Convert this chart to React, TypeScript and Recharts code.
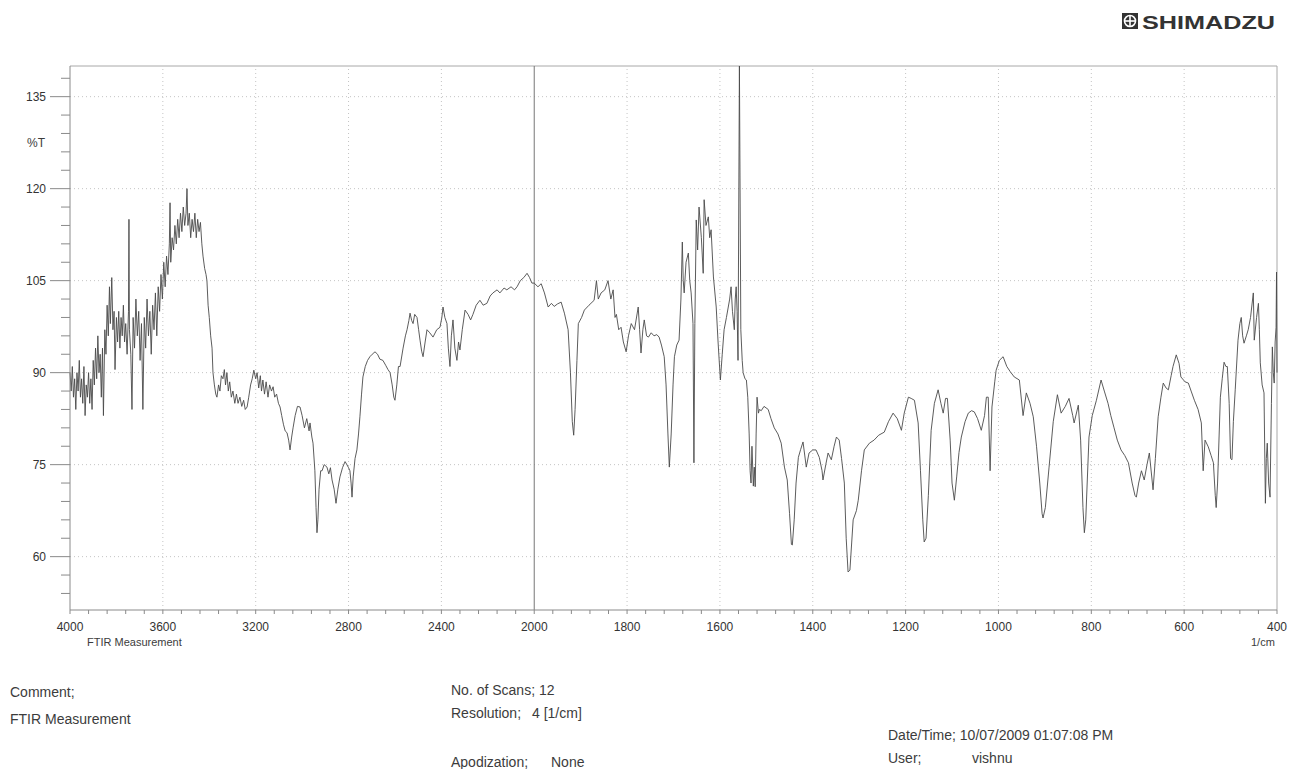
import React from 'react';
import { LineChart, Line, XAxis, YAxis, ReferenceLine } from 'recharts';

// [wavenumber 1/cm, %T], high to low wavenumber
const OH_REGION = [
  [4000, 90], [3995, 87], [3990, 91], [3985, 86], [3980, 89], [3975, 84], [3970, 90], [3965, 87],
  [3960, 92], [3955, 86], [3950, 89], [3945, 85], [3940, 91], [3935, 83], [3930, 88], [3925, 86],
  [3920, 90], [3915, 85], [3910, 89], [3905, 84], [3900, 92], [3895, 88], [3890, 94], [3885, 89],
  [3880, 96], [3875, 90], [3870, 93], [3865, 86], [3860, 94], [3856, 83], [3850, 97], [3845, 93],
  [3840, 101], [3835, 96], [3830, 104], [3826, 98], [3820, 105.5], [3815, 97], [3810, 100], [3806, 90.5],
  [3800, 99], [3795, 95], [3790, 100], [3785, 94], [3780, 99], [3775, 96], [3770, 101], [3765, 95],
  [3760, 98], [3754, 93], [3748, 100], [3746, 115], [3744, 97], [3738, 93], [3733, 84], [3728, 99],
  [3722, 94], [3716, 102], [3710, 96], [3704, 100], [3698, 92], [3692, 98], [3686, 84], [3680, 99],
  [3674, 94], [3668, 102], [3662, 96], [3656, 100], [3650, 93], [3644, 101], [3638, 97], [3632, 103],
  [3626, 96], [3620, 104], [3614, 100], [3608, 106], [3602, 102], [3596, 108], [3590, 104], [3584, 109],
  [3578, 106], [3572, 111], [3569, 117.7], [3566, 108], [3560, 112], [3554, 110], [3548, 114], [3542, 111],
  [3536, 115], [3530, 112], [3524, 116], [3518, 113], [3512, 117], [3506, 114], [3500, 116], [3496, 120],
  [3492, 114], [3486, 116], [3480, 112], [3474, 115], [3468, 113], [3462, 116], [3456, 112], [3450, 115],
  [3444, 113], [3438, 114.5], [3432, 111], [3427, 109], [3420, 107], [3414, 106], [3410, 105], [3405, 101],
  [3400, 99], [3394, 96], [3388, 94], [3384, 90], [3378, 88], [3372, 86.5], [3367, 86],
];

const CH_REGION = [
  [3360, 88], [3354, 87], [3348, 89.5], [3341, 89], [3335, 90.5], [3330, 88], [3324, 90], [3318, 87],
  [3312, 88.5], [3305, 86], [3298, 87], [3290, 85], [3283, 86.5], [3276, 85], [3268, 86], [3260, 84.5],
  [3252, 85.5], [3245, 84], [3237, 84.4], [3230, 86], [3222, 88], [3215, 89], [3208, 90.4], [3200, 89],
  [3194, 90], [3187, 87.5], [3180, 89.5], [3175, 87], [3169, 88.8], [3162, 86.5], [3155, 88.5], [3147, 86],
  [3140, 88], [3132, 87], [3125, 87.7], [3118, 86], [3110, 86.5], [3102, 85], [3095, 84.4], [3088, 83],
  [3080, 81.5], [3073, 80.5], [3065, 80.2], [3058, 79], [3052, 77.4], [3045, 79.5], [3039, 81], [3030, 83],
  [3020, 84.5], [3009, 84.4], [3000, 83], [2990, 81], [2980, 82.5], [2970, 80.5], [2966, 81.8], [2958, 79.5],
  [2953, 78.5], [2945, 74], [2940, 68], [2936, 63.9], [2932, 66], [2927, 71], [2920, 74], [2914, 74],
  [2905, 75], [2893, 74.6], [2885, 73.5], [2878, 74.5], [2871, 72.5], [2862, 71], [2854, 68.7], [2846, 71],
  [2837, 73], [2826, 74.5], [2815, 75.5], [2807, 75], [2800, 74.5], [2794, 74], [2789, 72], [2785, 69.7],
  [2780, 73], [2772, 76], [2764, 77.4], [2757, 80], [2751, 82.8], [2744, 86.5], [2738, 89.3],
];

const MID_REGION = [
  [2728, 91], [2718, 92], [2708, 92.6], [2698, 93], [2686, 93.4], [2675, 93], [2665, 92.2], [2652, 92],
  [2640, 91.2], [2630, 90.5], [2621, 90], [2612, 88], [2605, 86], [2600, 85.5], [2592, 88], [2585, 91],
  [2578, 91], [2565, 94], [2555, 96], [2548, 97], [2540, 98.5], [2535, 99.7], [2528, 98.5], [2522, 98],
  [2515, 99.5], [2505, 99], [2498, 97], [2492, 95.3], [2485, 93.5], [2479, 92.6], [2470, 95], [2462, 97],
  [2450, 96.5], [2436, 95.8], [2420, 97], [2406, 97.4], [2398, 99], [2393, 100.7], [2385, 99], [2376, 98],
  [2370, 94], [2363, 91], [2357, 96], [2350, 98.6], [2342, 94], [2333, 92], [2326, 95], [2320, 93.7],
  [2310, 97], [2298, 100.2], [2285, 99.5], [2274, 98.6], [2264, 99.5], [2250, 101], [2234, 101.8], [2220, 101],
  [2204, 101.3], [2190, 102.5], [2178, 103], [2160, 103.5], [2148, 103], [2130, 103.8], [2118, 103.5], [2100, 104],
  [2085, 103.5], [2074, 104], [2060, 105], [2045, 105.5], [2031, 106.2], [2020, 105.5], [2010, 104.6], [2000, 104.6],
];

const CARBONYL_REGION = [
  [1992, 104], [1985, 104.5], [1978, 103], [1970, 100.7], [1963, 101.3], [1957, 100.8], [1950, 101.2], [1942, 101.5],
  [1935, 99.7], [1927, 97], [1922, 90], [1918, 82], [1915, 79.8], [1912, 84], [1908, 92], [1905, 98],
  [1898, 99], [1892, 100.2], [1882, 101], [1871, 101.8], [1866, 105], [1862, 102], [1856, 103], [1848, 103.5],
  [1841, 105], [1835, 102], [1830, 103.5], [1826, 99], [1823, 99.5], [1818, 97], [1813, 97.4], [1808, 95],
  [1802, 93.4], [1797, 96], [1791, 98], [1784, 97], [1776, 100.7], [1773, 97], [1770, 93.2], [1766, 97],
  [1763, 98.6], [1758, 96], [1754, 95.8], [1748, 96.5], [1742, 96], [1736, 96.2], [1731, 95.8], [1726, 94.5],
  [1720, 92.6], [1716, 88], [1712, 80], [1709, 74.6], [1705, 80], [1701, 88], [1698, 92.6], [1693, 94.5],
  [1688, 95.3], [1684, 102], [1681, 111.3], [1679, 105], [1677, 103], [1673, 108], [1668, 109.5], [1665, 105],
  [1662, 103], [1658, 98], [1656, 75.3], [1654, 98], [1651, 114.9], [1648, 110], [1645, 117], [1640, 112],
  [1636, 106.2], [1634, 118.2], [1630, 114], [1625, 115.4], [1622, 112], [1619, 113.3], [1614, 105.6], [1608, 100.7],
  [1604, 95], [1599, 88.8], [1595, 93], [1591, 97], [1586, 99], [1582, 100.7], [1579, 102], [1576, 104],
  [1573, 100], [1569, 97], [1567, 102], [1565, 104], [1563, 100], [1561, 92], [1558, 140], [1555, 97],
  [1552, 92], [1550, 90], [1546, 89], [1543, 88.8], [1540, 86], [1537, 80], [1535, 74], [1533, 72],
  [1531, 78], [1528, 71.5], [1526, 74.6], [1524, 71.4], [1522, 80], [1520, 86], [1517, 83.4], [1515, 84],
];

const FINGERPRINT_REGION = [
  [1511, 83.8], [1505, 84.5], [1496, 84], [1490, 82.5], [1483, 81], [1475, 80], [1468, 78.5], [1461, 74.6],
  [1455, 72.5], [1450, 67], [1446, 62], [1444, 61.9], [1440, 66], [1436, 72], [1431, 76.2], [1426, 77.5],
  [1421, 78.7], [1414, 74.6], [1408, 76.9], [1400, 77.4], [1393, 77.4], [1386, 76.2], [1380, 74], [1378, 72.5],
  [1372, 75], [1367, 76.9], [1360, 75.8], [1354, 78], [1349, 79.5], [1343, 79], [1338, 76], [1332, 72],
  [1328, 63], [1324, 57.5], [1320, 57.8], [1313, 66], [1306, 67.5], [1302, 69.2], [1295, 74], [1289, 77.4],
  [1278, 78.5], [1268, 79], [1258, 79.8], [1246, 80.3], [1237, 82], [1227, 83.4], [1218, 82.5], [1209, 80.6],
  [1203, 83.4], [1194, 86], [1188, 85.8], [1181, 85.5], [1173, 81.8], [1168, 74], [1163, 66], [1160, 62.4],
  [1156, 63], [1151, 70], [1145, 80.6], [1138, 85], [1130, 87.2], [1124, 85], [1119, 83.4], [1114, 85.8],
  [1110, 85.8], [1104, 79], [1100, 72], [1095, 69.2], [1090, 73], [1085, 77], [1080, 79.5], [1072, 82],
  [1065, 83.4], [1058, 83.8], [1052, 83.6], [1045, 82.5], [1037, 80.6], [1030, 83], [1026, 86], [1022, 86],
  [1018, 74], [1014, 84.4], [1008, 88.5], [1005, 90.4], [998, 92], [990, 92.6], [982, 91], [975, 90.2],
  [966, 89.3], [955, 88.8], [947, 83], [940, 86.7], [932, 85], [925, 82.8], [918, 78], [911, 72],
  [906, 67], [904, 66.3], [899, 68], [891, 74.6], [882, 82], [873, 86.4], [865, 83.4], [856, 84.5],
  [848, 85.8], [840, 83], [837, 81.8], [828, 84.7], [823, 79], [818, 68], [815, 63.9], [812, 66],
  [805, 79.5], [798, 83], [789, 85.5], [779, 88.8], [772, 87], [764, 85], [758, 83], [751, 81],
  [744, 79], [736, 77.4], [728, 76.5], [720, 75.3], [712, 72], [706, 70], [703, 69.7], [698, 72],
  [692, 74], [686, 72.5], [680, 75], [675, 76.9], [667, 70.9], [662, 76], [656, 82.8], [650, 86],
  [645, 88.3], [639, 87.5], [634, 87.2], [628, 89.5], [624, 91], [617, 92.9], [611, 91.5], [607, 89.3],
  [598, 88.5], [591, 88.3], [585, 87], [578, 85.5], [570, 84], [563, 81.8], [559, 74], [555, 79],
  [548, 77.9], [542, 76.5], [537, 75.3], [533, 70], [531, 68], [528, 72], [522, 86], [518, 89],
  [514, 91.7], [510, 91], [507, 91], [503, 85], [500, 76], [497, 75.8], [494, 82], [490, 87.2],
  [484, 95.3], [480, 98], [477, 99], [474, 96], [471, 94.8], [466, 96], [462, 97], [457, 99],
  [451, 103], [449, 95.3], [444, 99], [440, 101.3], [438, 97], [436, 91.6], [432, 88], [428, 86.7],
  [425, 68.7], [423, 76], [421, 78.5], [418, 72], [415, 69.7], [412, 85], [410, 94.2], [408, 90],
  [406, 88.3], [404, 95], [402, 97.4], [401, 106.4], [400, 90],
];

const X_MAJOR = [4000, 3600, 3200, 2800, 2400, 2000, 1800, 1600, 1400, 1200, 1000, 800, 600, 400];
const Y_MAJOR = [60, 75, 90, 105, 120, 135];
const Y_TICKS = [54, 57, 60, 63, 66, 69, 72, 75, 78, 81, 84, 87, 90, 93, 96, 99, 102, 105, 108, 111, 114, 117, 120, 123, 126, 129, 132, 135, 138];

// the instrument halves the scale above 2000 1/cm
const toU = (w: number) => (w >= 2000 ? (4000 - w) / 2 : 1000 + (2000 - w));
const fromU = (u: number) => (u <= 1000 ? 4000 - 2 * u : 2000 - (u - 1000));

const data = [...OH_REGION, ...CH_REGION, ...MID_REGION, ...CARBONYL_REGION, ...FINGERPRINT_REGION].map(
  ([w, t]) => ({ u: toU(w), t })
);

const xTicks: number[] = [];
for (let u = 0; u <= 2600; u += 40) xTicks.push(u);
const majorU = X_MAJOR.map(toU);

const FONT = '"Liberation Sans", Arial, sans-serif';

const YTick = (props: any) => {
  const { x, y, payload } = props;
  const major = Y_MAJOR.includes(payload.value);
  return (
    <g>
      <line x1={x - (major ? 20 : 9)} y1={y} x2={x} y2={y} stroke="#8a8a8a" />
      {major && (
        <text x={x - 24} y={y} dy={4} textAnchor="end" fontSize={12} fill="#333" fontFamily={FONT}>
          {payload.value}
        </text>
      )}
    </g>
  );
};

const txt = (left: number, top: number, s: string, size = 14) => (
  <div
    style={{ position: 'absolute', left, top, fontSize: size, lineHeight: '16px', color: '#3c3c3c', fontFamily: FONT, whiteSpace: 'pre' }}
  >
    {s}
  </div>
);

export default function App() {
  return (
    <div style={{ position: 'relative', width: 1281, height: 761, background: '#fff', fontFamily: FONT }}>
      {/* page printout runs to the right and bottom edges */}
      <style>{'body{margin:8px 0 0 8px;}'}</style>

      <svg style={{ position: 'absolute', left: 1112, top: 3 }} width={165} height={26}>
        <rect x={2} y={2} width={16} height={16} fill="#333" />
        <circle cx={10} cy={10} r={5.5} fill="none" stroke="#fff" strokeWidth={1.6} />
        <line x1={10} y1={4.5} x2={10} y2={15.5} stroke="#fff" strokeWidth={1.6} />
        <line x1={4.5} y1={10} x2={15.5} y2={10} stroke="#fff" strokeWidth={1.6} />
        <text x={22} y={18} fontSize={19} fontWeight="bold" fill="#333" fontFamily={FONT} textLength={133} lengthAdjust="spacingAndGlyphs">
          SHIMADZU
        </text>
      </svg>

      <div style={{ position: 'absolute', left: 0, top: 0 }}>
        <LineChart width={1281} height={640} data={data} margin={{ top: 58, right: 12, bottom: 8, left: 0 }}>
          {Y_MAJOR.map((v) => (
            <ReferenceLine key={'gy' + v} y={v} stroke="#c4c4c4" strokeDasharray="1 3" />
          ))}
          {majorU
            .filter((u) => u !== 0 && u !== 1000 && u !== 2600)
            .map((u) => (
              <ReferenceLine key={'gx' + u} x={u} stroke="#c4c4c4" strokeDasharray="1 3" />
            ))}
          <ReferenceLine y={140} stroke="#a8a8a8" />
          <ReferenceLine x={2600} stroke="#a8a8a8" />
          <ReferenceLine x={1000} stroke="#777" />
          <XAxis
            type="number"
            dataKey="u"
            domain={[0, 2600]}
            ticks={xTicks}
            interval={0}
            height={30}
            tickSize={4}
            tickMargin={8}
            axisLine={{ stroke: '#8a8a8a' }}
            tickLine={{ stroke: '#8a8a8a' }}
            tick={{ fontSize: 12, fill: '#333', fontFamily: FONT }}
            tickFormatter={(u: number) => (majorU.includes(u) ? String(fromU(u)) : '')}
          />
          <YAxis
            type="number"
            domain={[51.3, 140]}
            ticks={Y_TICKS}
            interval={0}
            width={62}
            tickSize={0}
            tickMargin={0}
            tickLine={false}
            axisLine={{ stroke: '#8a8a8a' }}
            tick={<YTick />}
          />
          <Line
            type="linear"
            dataKey="t"
            stroke="#4a4a4a"
            strokeWidth={0.9}
            dot={false}
            isAnimationActive={false}
          />
        </LineChart>
      </div>

      {txt(19, 127, '%T', 12)}
      {txt(79, 626, 'FTIR Measurement', 11)}
      {txt(1243, 626, '1/cm', 11)}

      {txt(2, 676, 'Comment;')}
      {txt(2, 703, 'FTIR Measurement')}
      {txt(443, 674, 'No. of Scans; 12')}
      {txt(443, 697, 'Resolution;')}
      {txt(524, 697, '4 [1/cm]')}
      {txt(443, 746, 'Apodization;')}
      {txt(543, 746, 'None')}
      {txt(880, 719, 'Date/Time; 10/07/2009 01:07:08 PM')}
      {txt(880, 742, 'User;')}
      {txt(964, 742, 'vishnu')}
    </div>
  );
}
